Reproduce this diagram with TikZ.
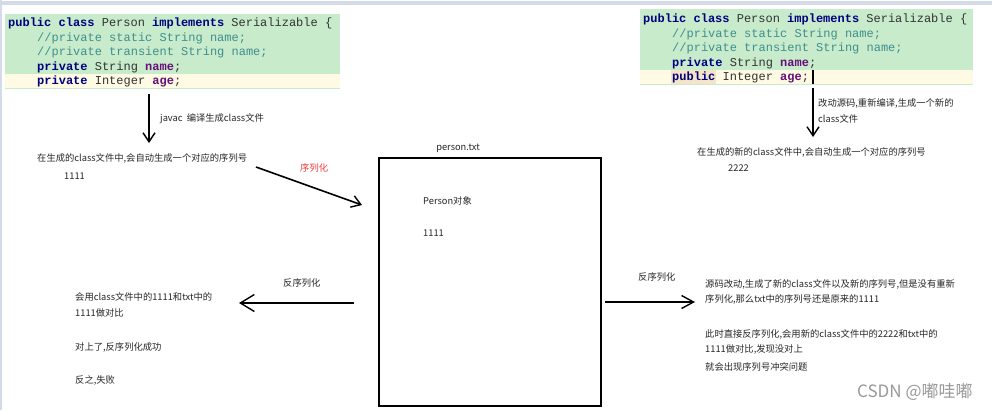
\documentclass[tikz,border=0pt]{standalone}
\usepackage{fontspec}
\setmonofont{Liberation Mono}
\newfontfamily\cjk{Noto Sans CJK SC}
\usetikzlibrary{arrows.meta}
\definecolor{codegreen}{HTML}{C7EBCB}
\definecolor{codeyellow}{HTML}{FFFAE3}
\definecolor{kw}{HTML}{000080}
\definecolor{ty}{HTML}{333333}
\definecolor{cm}{HTML}{3F8F8F}
\definecolor{fld}{HTML}{660E7A}
\definecolor{frame}{HTML}{D3DAE8}
\definecolor{serred}{HTML}{F03C3C}
\newcommand{\kwd}[1]{\textcolor{kw}{\textbf{#1}}}
\newcommand{\fldn}[1]{\textcolor{fld}{\textbf{#1}}}
\newcommand{\cmt}[1]{\textcolor{cm}{#1}}
\begin{document}
\begin{tikzpicture}[x=1pt,y=-1pt,
  code/.style={anchor=base west,inner sep=0pt,font=\fontsize{12}{14}\ttfamily,text=ty},
  txt/.style={anchor=west,inner sep=0pt,font=\cjk\fontsize{9.3}{11}\selectfont,text=black!85},
  arr/.style={line width=1.6pt,-{Straight Barb[length=9pt,width=12pt,line width=1.4pt]}},
  boxst/.style={draw,line width=1.8pt}]
\useasboundingbox (0,0) rectangle (1002,410);
\fill[white] (0,0) rectangle (1002,410);
% frame of the screenshot
\fill[frame] (0,1) rectangle (992,4.5);
\fill[frame] (0,0) rectangle (1.5,410);

% left code block
\fill[codegreen] (5,14) rectangle (340,89);
\fill[codeyellow] (5,73.5) rectangle (340,87.5);
\node[code] (l1) at (8,26.5) {\kwd{public} \kwd{class} Person \kwd{implements} Serializable \{};
\node[code] (l2) at (37,41) {\cmt{//private static String name;}};
\node[code] (l3) at (37,55.5) {\cmt{//private transient String name;}};
\node[code] (l4) at (37,70) {\kwd{private} String \fldn{name};};
\node[code] (l5) at (37,84.5) {\kwd{private} Integer \fldn{age};};

% right code block
\fill[codegreen] (640,9) rectangle (973,85);
\fill[codeyellow] (640,69.5) rectangle (973,83.5);
\fill[codeyellow!80!brown!90] (671,70) rectangle (716,83.5);
\node[code] (r1) at (643,22.5) {\kwd{public} \kwd{class} Person \kwd{implements} Serializable \{};
\node[code] (r2) at (672,37) {\cmt{//private static String name;}};
\node[code] (r3) at (672,51.5) {\cmt{//private transient String name;}};
\node[code] (r4) at (672,66) {\kwd{private} String \fldn{name};};
\node[code] (r5) at (672,80.5) {\kwd{public} Integer \fldn{age};};
\draw[line width=1.5pt] (813,70) -- (813,84);

% left top arrow
\coordinate (a1s) at (149,94);
\coordinate (a1e) at (149,143);
\draw[arr] (a1s) -- (a1e);
\node[txt] (t1) at (160,119) {javac\ \ 编译生成class文件};
\node[txt] (t2) at (37,158) {在生成的class文件中,会自动生成一个对应的序列号};
\node[txt] (t3) at (64,176) {1111};

% serialization
\coordinate (a2s) at (256,167);
\coordinate (a2e) at (362,205);
\draw[arr] (a2s) -- (a2e);
\node[txt,text=serred] (t4) at (300,168) {序列化};

% person.txt box
\node[boxst,anchor=north west,minimum width=222pt,minimum height=248pt,inner sep=0pt] (box) at (378,157) {};
\node[txt,anchor=south] (bl) at (458,153) {person.txt};
\node[txt] (b1) at (423,201) {Person对象};
\node[txt] (b2) at (423,233) {1111};

% left deserialization
\coordinate (a3s) at (354,303);
\coordinate (a3e) at (239,303);
\draw[line width=1.6pt,-{Straight Barb[length=14pt,width=17pt,line width=1.4pt]}] (a3s) -- (a3e);
\node[txt] (t5) at (283,283) {反序列化};
\node[txt] (t6) at (75,297) {会用class文件中的1111和txt中的};
\node[txt] (t7) at (75,313) {1111做对比};
\node[txt] (t8) at (75,347) {对上了,反序列化成功};
\node[txt] (t9) at (75,380) {反之,失败};

% right deserialization
\coordinate (a4s) at (605,302);
\coordinate (a4e) at (695,302);
\draw[line width=1.6pt,-{Straight Barb[length=12pt,width=13pt,line width=1.4pt]}] (a4s) -- (a4e);
\node[txt] (t10) at (638,277) {反序列化};
\node[txt] (t11) at (705,284) {源码改动,生成了新的class文件以及新的序列号,但是没有重新};
\node[txt] (t12) at (705,299) {序列化,那么txt中的序列号还是原来的1111};
\node[txt] (t13) at (705,334) {此时直接反序列化,会用新的class文件中的2222和txt中的};
\node[txt] (t14) at (705,349) {1111做对比,发现没对上};
\node[txt] (t15) at (705,367) {就会出现序列号冲突问题};

% right top arrow
\coordinate (a5s) at (813,88);
\coordinate (a5e) at (813,137);
\draw[arr] (a5s) -- (a5e);
\node[txt] (t16) at (818,103) {改动源码,重新编译,生成一个新的};
\node[txt] (t17) at (818,119) {class文件};
\node[txt] (t18) at (697,152) {在生成的新的class文件中,会自动生成一个对应的序列号};
\node[txt] (t19) at (728,168) {2222};

% watermark
\node[anchor=west,inner sep=0pt,font=\cjk\fontsize{17}{20}\selectfont,text=black!40] (wm) at (857,392) {CSDN @嘟哇嘟};
\end{tikzpicture}
\end{document}
